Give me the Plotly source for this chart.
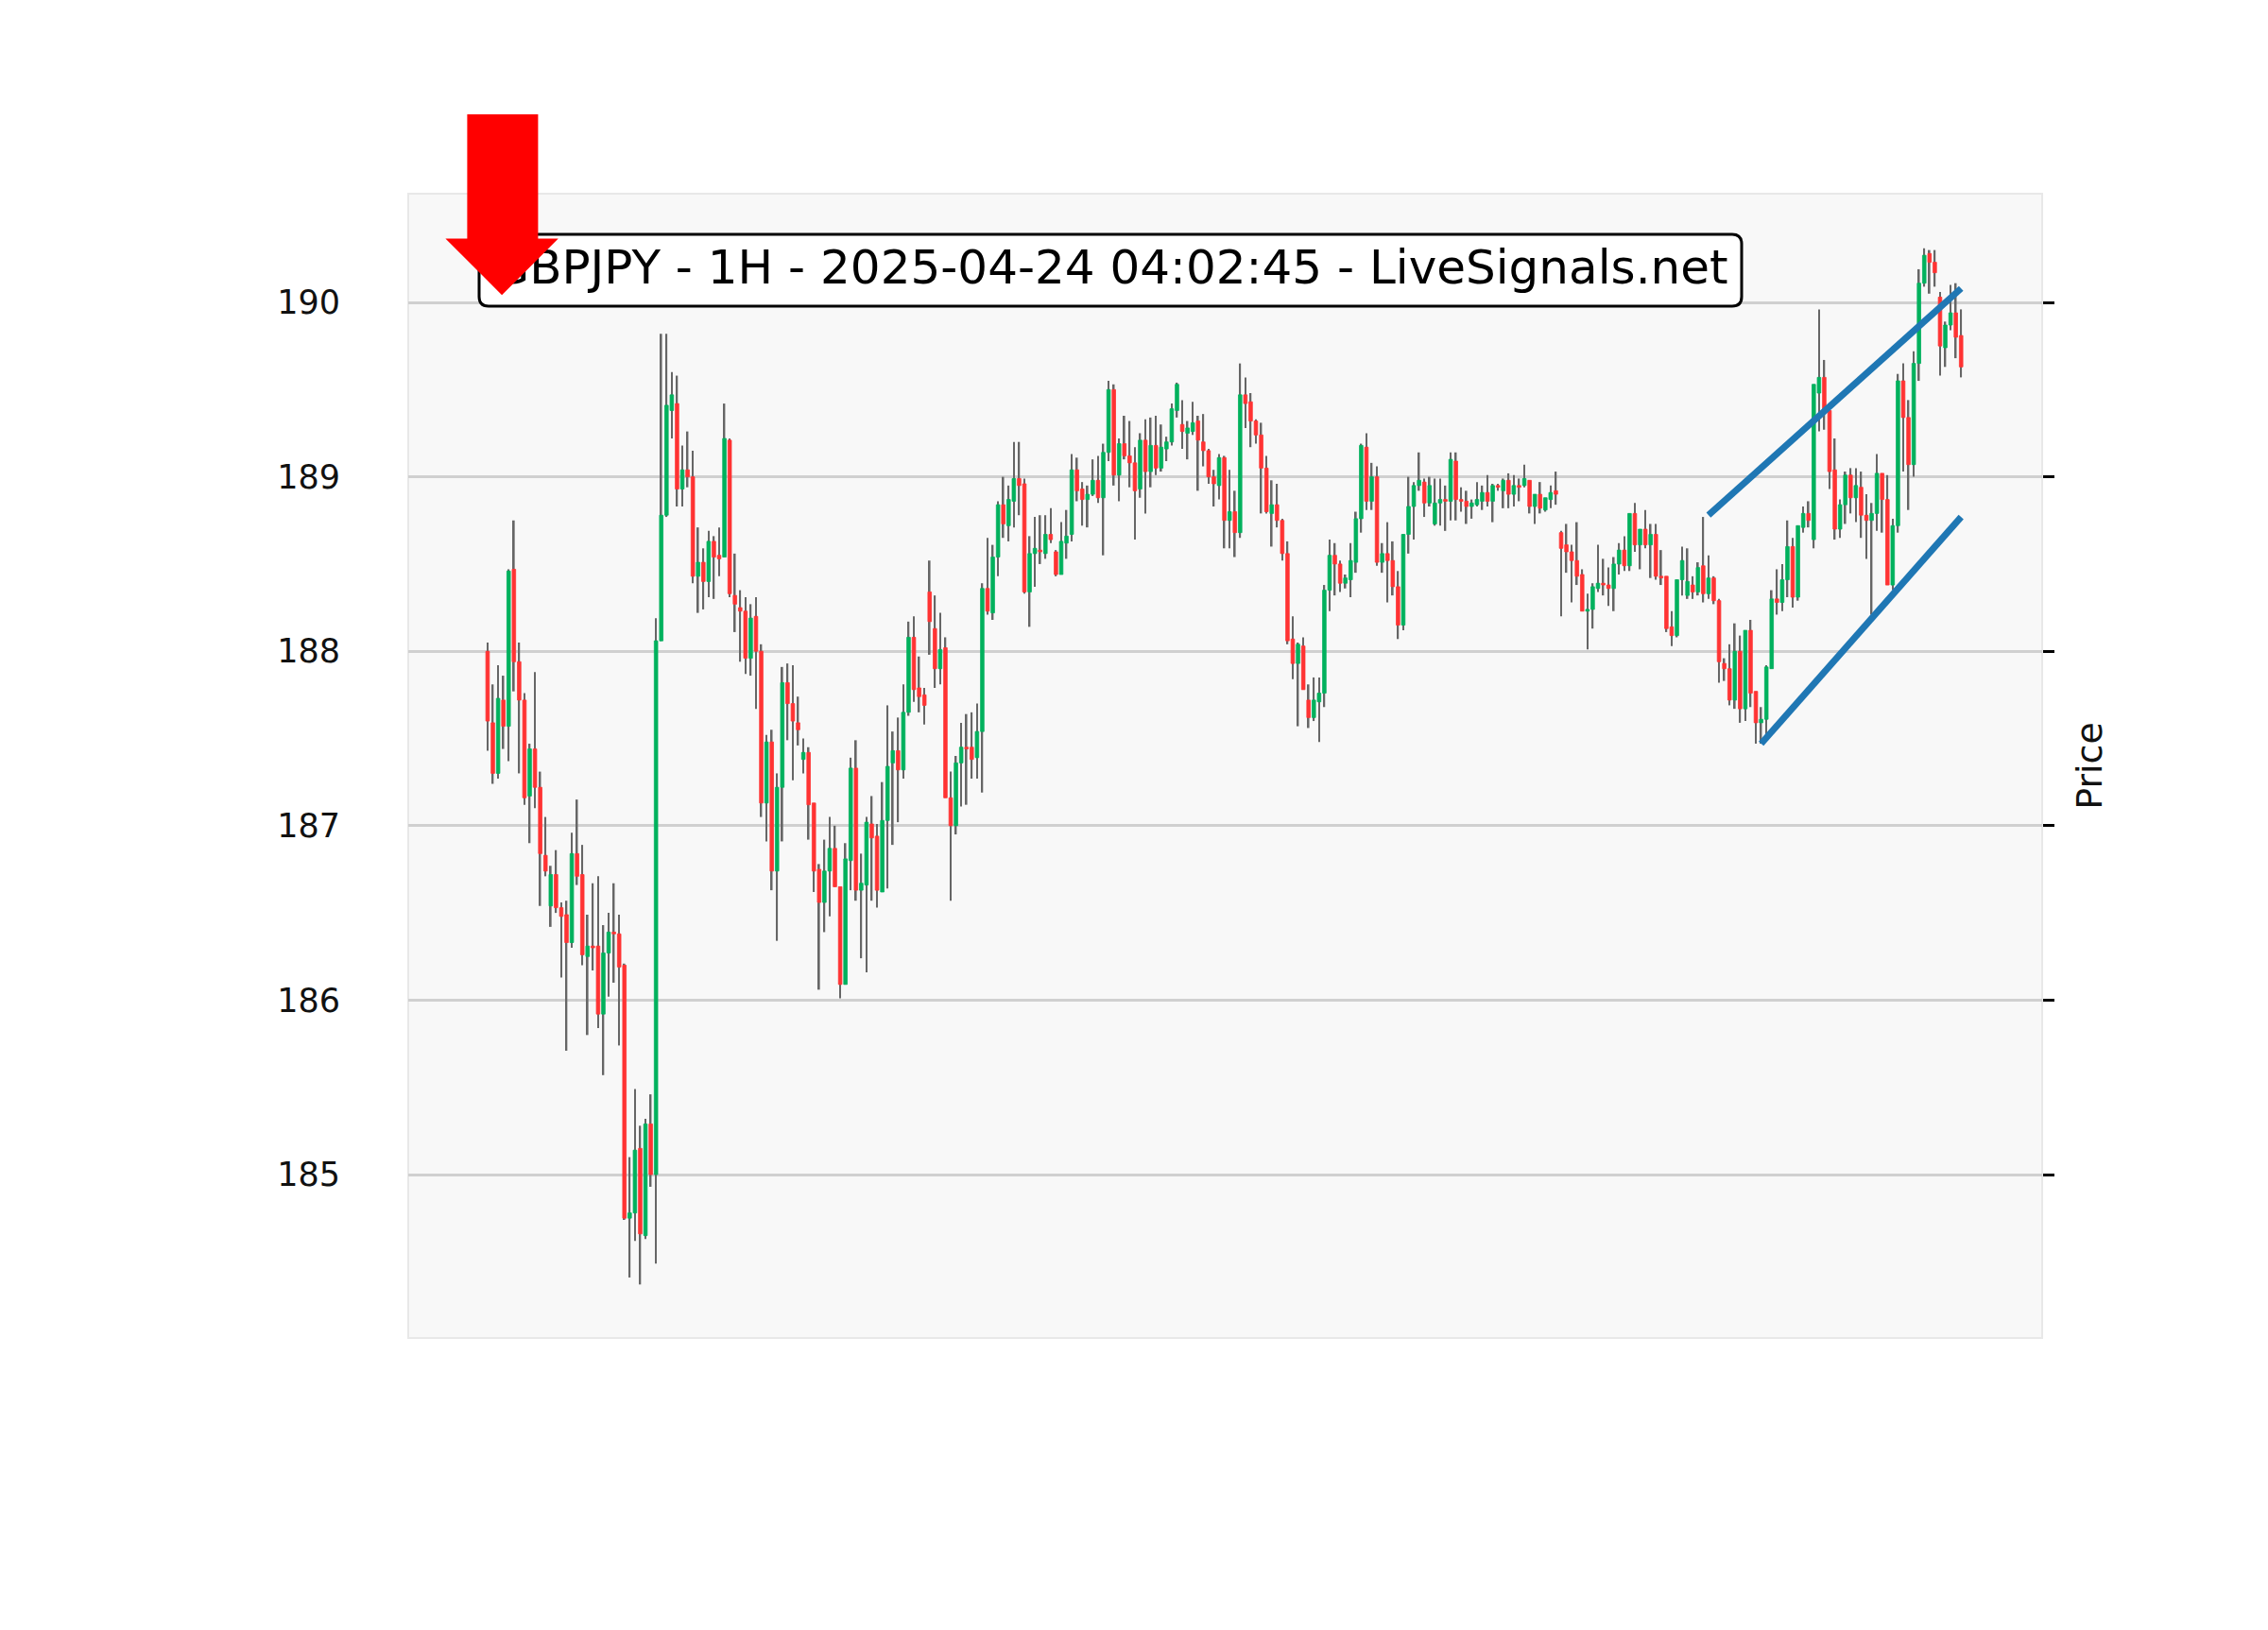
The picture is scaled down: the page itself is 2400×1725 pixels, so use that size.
import plotly.graph_objects as go

# ---------------- data (hourly candles) ----------------
opens = [188.00, 187.59, 187.30, 187.72, 187.57, 188.47, 187.94, 187.72, 187.17, 187.44,
         187.22, 186.83, 186.54, 186.72, 186.53, 186.49, 186.33, 186.84, 186.72, 186.25,
         186.31, 186.31, 185.92, 186.27, 186.39, 186.38, 186.20, 184.75, 184.78, 185.15,
         184.65, 185.29, 185.00, 188.06, 188.78, 189.38, 189.42, 188.93, 189.04, 189.00,
         188.43, 188.51, 188.40, 188.63, 188.55, 188.54, 189.21, 188.32, 188.25, 188.23,
         187.96, 188.20, 188.00, 187.13, 187.48, 186.74, 187.22, 187.82, 187.70, 187.59,
         187.38, 187.42, 187.13, 186.75, 186.56, 186.74, 186.87, 186.65, 186.09, 186.80,
         187.33, 186.63, 186.66, 187.01, 186.94, 186.62, 187.03, 187.36, 187.43, 187.32,
         187.65, 188.08, 187.79, 187.75, 188.34, 188.13, 187.90, 188.02, 187.16, 187.00,
         187.36, 187.45, 187.45, 187.39, 187.54, 188.36, 188.22, 188.54, 188.84, 188.72,
         188.86, 188.99, 188.96, 188.34, 188.56, 188.58, 188.56, 188.67, 188.57, 188.44,
         188.62, 188.67, 189.04, 188.93, 188.87, 188.90, 188.98, 188.88, 189.14, 189.50,
         189.01, 189.19, 189.12, 189.08, 188.93, 189.21, 189.03, 189.18, 189.05, 189.16,
         189.20, 189.38, 189.30, 189.25, 189.26, 189.32, 189.20, 189.15, 189.00, 188.95,
         189.11, 188.75, 188.80, 188.68, 189.47, 189.43, 189.32, 189.24, 189.05, 188.79,
         188.84, 188.75, 188.56, 188.07, 187.93, 188.03, 187.72, 187.62, 187.71, 187.76,
         188.35, 188.55, 188.50, 188.39, 188.41, 188.51, 188.76, 189.17, 188.86, 189.00,
         188.51, 188.56, 188.52, 188.37, 188.15, 188.67, 188.83, 188.95, 188.97, 188.85,
         188.73, 188.85, 188.87, 188.86, 189.09, 188.87, 188.86, 188.83, 188.84, 188.86,
         188.91, 188.86, 188.95, 188.92, 188.98, 188.90, 188.95, 188.95, 188.98, 188.83,
         188.90, 188.81, 188.87, 188.92, 188.68, 188.61, 188.57, 188.52, 188.44, 188.23,
         188.24, 188.36, 188.39, 188.38, 188.36, 188.50, 188.58, 188.49, 188.79, 188.61,
         188.70, 188.61, 188.67, 188.43, 188.43, 188.14, 188.09, 188.41, 188.32, 188.38,
         188.34, 188.49, 188.33, 188.42, 188.29, 187.93, 187.90, 187.72, 188.00, 187.67,
         188.12, 187.77, 187.59, 187.61, 187.90, 188.30, 188.28, 188.41, 188.60, 188.31,
         188.71, 188.79, 188.64, 189.48, 189.57, 189.38, 189.04, 188.70, 188.84, 189.01,
         188.88, 188.94, 188.78, 188.75, 188.79, 189.02, 188.87, 188.38, 188.72, 189.55,
         189.34, 189.07, 189.65, 190.11, 190.28, 190.23, 190.03, 189.74, 189.87, 189.94,
         189.81]
highs = [188.05, 187.81, 187.92, 187.86, 188.47, 188.75, 188.05, 187.76, 187.47, 187.88,
         187.31, 187.05, 186.77, 186.86, 186.56, 186.57, 186.96, 187.15, 186.89, 186.49,
         186.67, 186.71, 186.43, 186.50, 186.67, 186.49, 186.21, 185.10, 185.49, 185.28,
         185.32, 185.46, 188.19, 189.82, 189.82, 189.60, 189.58, 189.18, 189.26, 189.15,
         188.71, 188.59, 188.69, 188.66, 188.71, 189.42, 189.22, 188.56, 188.35, 188.31,
         188.27, 188.31, 188.04, 187.52, 187.55, 187.30, 187.91, 187.93, 187.92, 187.74,
         187.50, 187.45, 187.13, 186.78, 186.92, 187.05, 187.00, 186.65, 186.90, 187.39,
         187.49, 186.84, 187.05, 187.17, 187.01, 187.25, 187.69, 187.54, 187.62, 187.81,
         188.17, 188.20, 187.97, 187.79, 188.52, 188.32, 188.22, 188.08, 187.31, 187.40,
         187.59, 187.64, 187.65, 187.70, 188.39, 188.65, 188.61, 188.86, 189.00, 188.95,
         189.20, 189.20, 188.99, 188.66, 188.77, 188.78, 188.78, 188.82, 188.58, 188.74,
         188.81, 189.13, 189.11, 188.97, 188.95, 189.10, 189.12, 189.19, 189.55, 189.53,
         189.22, 189.35, 189.32, 189.17, 189.25, 189.33, 189.34, 189.35, 189.30, 189.23,
         189.42, 189.54, 189.44, 189.32, 189.43, 189.35, 189.36, 189.16, 189.04, 189.13,
         189.12, 189.04, 188.92, 189.65, 189.57, 189.48, 189.33, 189.31, 189.12, 188.98,
         188.96, 188.76, 188.63, 188.20, 188.05, 188.08, 187.81, 187.85, 187.85, 188.38,
         188.64, 188.62, 188.52, 188.44, 188.62, 188.80, 189.19, 189.25, 189.08, 189.06,
         188.62, 188.74, 188.63, 188.46, 188.67, 189.00, 188.97, 189.14, 188.99, 189.00,
         188.99, 188.99, 188.95, 189.14, 189.14, 188.94, 188.92, 188.87, 188.97, 188.95,
         189.01, 188.96, 188.96, 188.99, 189.02, 189.01, 188.99, 189.07, 188.98, 188.90,
         188.97, 188.88, 188.95, 189.03, 188.69, 188.73, 188.61, 188.74, 188.47, 188.33,
         188.39, 188.61, 188.53, 188.48, 188.54, 188.62, 188.66, 188.79, 188.85, 188.70,
         188.81, 188.73, 188.73, 188.58, 188.43, 188.23, 188.41, 188.60, 188.59, 188.43,
         188.51, 188.77, 188.55, 188.43, 188.30, 187.96, 188.04, 188.16, 188.09, 188.12,
         188.18, 187.77, 187.68, 187.92, 188.35, 188.47, 188.50, 188.75, 188.65, 188.72,
         188.83, 188.86, 189.53, 189.96, 189.67, 189.38, 189.22, 188.87, 189.03, 189.05,
         189.05, 189.03, 188.90, 188.85, 189.13, 189.02, 189.01, 188.76, 189.59, 189.65,
         189.44, 189.72, 190.19, 190.31, 190.30, 190.30, 190.06, 189.89, 190.10, 190.11,
         189.96]
lows = [187.43, 187.24, 187.27, 187.44, 187.37, 187.77, 187.30, 187.12, 186.90, 187.10,
        186.54, 186.71, 186.42, 186.50, 186.13, 185.71, 186.30, 186.66, 186.20, 185.80,
        186.17, 185.84, 185.57, 186.02, 186.10, 185.74, 184.74, 184.41, 184.62, 184.37,
        184.63, 184.93, 184.49, 188.06, 188.77, 189.22, 188.83, 188.83, 188.94, 188.39,
        188.22, 188.24, 188.31, 188.30, 188.43, 188.54, 188.31, 188.11, 187.94, 187.87,
        187.86, 187.67, 187.05, 186.91, 186.63, 186.34, 186.91, 187.49, 187.26, 187.46,
        187.30, 186.92, 186.62, 186.06, 186.39, 186.48, 186.65, 186.01, 186.09, 186.63,
        186.57, 186.24, 186.16, 186.57, 186.53, 186.62, 186.64, 186.89, 187.02, 187.27,
        187.63, 187.71, 187.65, 187.58, 187.98, 187.79, 187.81, 187.16, 186.57, 186.95,
        187.11, 187.12, 187.27, 187.27, 187.19, 188.21, 188.18, 188.43, 188.65, 188.63,
        188.71, 188.78, 188.33, 188.14, 188.37, 188.50, 188.53, 188.62, 188.43, 188.44,
        188.53, 188.63, 188.86, 188.72, 188.71, 188.89, 188.85, 188.55, 189.09, 188.95,
        188.86, 189.10, 188.94, 188.64, 188.88, 188.79, 188.94, 189.01, 189.03, 189.09,
        189.18, 189.34, 189.16, 189.10, 189.24, 188.92, 189.06, 188.96, 188.83, 188.87,
        188.59, 188.59, 188.54, 188.65, 189.28, 189.17, 189.19, 188.79, 188.79, 188.60,
        188.71, 188.52, 188.04, 187.84, 187.57, 187.78, 187.56, 187.60, 187.48, 187.68,
        188.23, 188.32, 188.34, 188.36, 188.31, 188.45, 188.68, 188.81, 188.81, 188.49,
        188.45, 188.28, 188.32, 188.07, 188.12, 188.56, 188.64, 188.92, 188.77, 188.83,
        188.72, 188.72, 188.69, 188.75, 188.75, 188.80, 188.73, 188.76, 188.83, 188.81,
        188.83, 188.74, 188.92, 188.82, 188.82, 188.83, 188.86, 188.94, 188.79, 188.73,
        188.79, 188.80, 188.82, 188.84, 188.20, 188.45, 188.28, 188.38, 188.23, 188.01,
        188.13, 188.34, 188.32, 188.26, 188.23, 188.44, 188.46, 188.46, 188.57, 188.47,
        188.59, 188.42, 188.41, 188.38, 188.11, 188.03, 188.08, 188.32, 188.30, 188.30,
        188.32, 188.28, 188.30, 188.27, 187.82, 187.83, 187.69, 187.67, 187.59, 187.60,
        187.68, 187.47, 187.47, 187.51, 187.90, 188.21, 188.23, 188.31, 188.25, 188.29,
        188.68, 188.71, 188.59, 189.26, 189.27, 188.93, 188.64, 188.65, 188.73, 188.79,
        188.74, 188.65, 188.53, 188.21, 188.69, 188.68, 188.38, 188.35, 188.68, 189.03,
        188.81, 189.00, 189.55, 190.09, 190.05, 190.09, 189.58, 189.63, 189.84, 189.68,
        189.57]
closes = [187.60, 187.30, 187.73, 187.57, 188.46, 187.94, 187.72, 187.16, 187.44, 187.22,
          186.84, 186.74, 186.72, 186.53, 186.48, 186.33, 186.84, 186.71, 186.26, 186.31,
          186.30, 185.92, 186.27, 186.39, 186.38, 186.19, 184.75, 184.78, 185.14, 184.66,
          185.29, 185.00, 188.06, 188.78, 189.41, 189.47, 188.93, 189.04, 189.00, 188.43,
          188.51, 188.40, 188.63, 188.54, 188.53, 189.22, 188.33, 188.27, 188.23, 187.96,
          188.19, 188.00, 187.13, 187.48, 186.74, 187.22, 187.82, 187.70, 187.60, 187.55,
          187.42, 187.12, 186.74, 186.56, 186.74, 186.87, 186.65, 186.09, 186.81, 187.33,
          186.63, 186.67, 187.02, 186.93, 186.63, 187.03, 187.34, 187.43, 187.32, 187.65,
          188.08, 187.78, 187.74, 187.69, 188.17, 187.90, 188.01, 187.16, 187.00, 187.36,
          187.45, 187.44, 187.38, 187.54, 188.36, 188.23, 188.54, 188.84, 188.73, 188.87,
          188.99, 188.95, 188.34, 188.56, 188.59, 188.57, 188.67, 188.64, 188.44, 188.63,
          188.66, 189.04, 188.92, 188.87, 188.90, 188.98, 188.88, 189.14, 189.50, 189.01,
          189.19, 189.12, 189.08, 188.92, 189.21, 189.03, 189.18, 189.05, 189.17, 189.20,
          189.39, 189.53, 189.26, 189.28, 189.31, 189.21, 189.15, 189.00, 188.96, 189.11,
          188.75, 188.80, 188.68, 189.47, 189.42, 189.32, 189.24, 189.05, 188.80, 188.84,
          188.75, 188.56, 188.06, 187.93, 188.04, 187.78, 187.62, 187.72, 187.76, 188.35,
          188.55, 188.50, 188.39, 188.42, 188.52, 188.76, 189.18, 188.86, 189.00, 188.51,
          188.56, 188.52, 188.37, 188.15, 188.67, 188.83, 188.95, 188.98, 188.85, 188.95,
          188.85, 188.87, 188.86, 189.10, 188.87, 188.86, 188.83, 188.85, 188.87, 188.91,
          188.86, 188.95, 188.94, 188.98, 188.90, 188.95, 188.94, 188.99, 188.83, 188.90,
          188.82, 188.88, 188.91, 188.90, 188.59, 188.57, 188.52, 188.43, 188.23, 188.24,
          188.37, 188.39, 188.38, 188.36, 188.50, 188.58, 188.49, 188.79, 188.61, 188.70,
          188.61, 188.67, 188.43, 188.42, 188.13, 188.09, 188.41, 188.52, 188.40, 188.34,
          188.48, 188.33, 188.42, 188.29, 187.94, 187.90, 187.72, 188.00, 187.67, 188.12,
          187.76, 187.59, 187.61, 187.91, 188.30, 188.28, 188.41, 188.60, 188.31, 188.72,
          188.79, 188.75, 189.53, 189.57, 189.38, 189.03, 188.70, 188.84, 189.01, 188.88,
          188.95, 188.78, 188.75, 188.79, 189.02, 188.87, 188.38, 188.72, 189.55, 189.34,
          189.07, 189.65, 190.11, 190.27, 190.23, 190.17, 189.75, 189.87, 189.94, 189.80,
          189.63]

price_ticks = [185, 186, 187, 188, 189, 190]

# channel lines (candle index, price)
upper_line_idx = [232, 280]
upper_line_price = [188.78, 190.08]
lower_line_idx = [242, 280]
lower_line_price = [187.47, 188.77]

title_text = "GBPJPY - 1H - 2025-04-24 04:02:45 - LiveSignals.net"
axis_title = "Price"

# ---------------- layout geometry ----------------
# page body has an 8px margin, so the figure is shrunk by 8px and offsets compensated
BODY = 8
W, H = 2400 - BODY, 1725 - BODY
PL, PR, PT, PB = 432, 2161, 205, 1416          # plot area in window pixels
XR = [-15.08, 295.4]
YR = [184.063, 190.623]

def px2x(px):
    return XR[0] + (px - PL) / (PR - PL) * (XR[1] - XR[0])

def py2y(py):
    return YR[1] - (py - PT) / (PB - PT) * (YR[1] - YR[0])

def px2paper(px):
    return (px - PL) / (PR - PL)

def py2paper(py):
    return 1 - (py - PT) / (PB - PT)

FONT = "DejaVu Sans"
GREEN = "#00b15d"
RED = "#ff3333"
WICK = "#666666"

n = len(opens)
xs = list(range(n))
body_base = [min(o, c) for o, c in zip(opens, closes)]
body_h = [abs(c - o) for o, c in zip(opens, closes)]
body_col = [GREEN if c >= o else RED for o, c in zip(opens, closes)]
wick_h = [h - l for h, l in zip(highs, lows)]

fig = go.Figure()

# wicks
fig.add_trace(go.Bar(x=xs, y=wick_h, base=lows, width=0.3,
                     marker=dict(color=WICK, line=dict(width=0)),
                     hoverinfo="skip", showlegend=False))
# bodies
fig.add_trace(go.Bar(x=xs, y=body_h, base=body_base, width=0.66,
                     marker=dict(color=body_col, line=dict(color=body_col, width=0.8)),
                     hoverinfo="skip", showlegend=False))

# channel lines
fig.add_trace(go.Scatter(x=upper_line_idx, y=upper_line_price, mode="lines",
                         line=dict(color="#1f77b4", width=7), yaxis="y2",
                         hoverinfo="skip", showlegend=False))
fig.add_trace(go.Scatter(x=lower_line_idx, y=lower_line_price, mode="lines",
                         line=dict(color="#1f77b4", width=7), yaxis="y2",
                         hoverinfo="skip", showlegend=False))

# title text inside box
bx0, bx1, by0, by1 = 507, 1843, 248, 324
fig.add_trace(go.Scatter(x=[px2x((bx0 + bx1) / 2)], y=[py2y((by0 + by1) / 2 + 1)],
                         mode="text", text=[title_text],
                         textposition="middle center",
                         textfont=dict(family=FONT, size=50, color="black"),
                         hoverinfo="skip", showlegend=False))

# rounded box path in data coords
r = 10
def P(px, py):
    return f"{px2x(px)},{py2y(py)}"
box_path = (f"M {P(bx0 + r, by0)} L {P(bx1 - r, by0)} Q {P(bx1, by0)} {P(bx1, by0 + r)} "
            f"L {P(bx1, by1 - r)} Q {P(bx1, by1)} {P(bx1 - r, by1)} "
            f"L {P(bx0 + r, by1)} Q {P(bx0, by1)} {P(bx0, by1 - r)} "
            f"L {P(bx0, by0 + r)} Q {P(bx0, by0)} {P(bx0 + r, by0)} Z")

def Q(px, py):
    return f"{px2paper(px)},{py2paper(py)}"
arrow_path = (f"M {Q(494.4, 121)} L {Q(569.4, 121)} L {Q(569.4, 252.5)} L {Q(590.8, 252.5)} "
              f"L {Q(531.1, 312.2)} L {Q(471.4, 252.5)} L {Q(494.4, 252.5)} Z")

shapes = [
    dict(type="rect", xref="paper", yref="paper", x0=0, x1=1, y0=0, y1=1,
         line=dict(color="#e8e8e8", width=2), fillcolor="rgba(0,0,0,0)", layer="below"),
    dict(type="path", xref="x", yref="y", path=box_path, layer="between",
         fillcolor="white", line=dict(color="black", width=3)),
    dict(type="path", xref="paper", yref="paper", path=arrow_path, layer="above",
         fillcolor="#ff0000", line=dict(width=0)),
]

fig.update_layout(
    width=W, height=H,
    margin=dict(l=PL - BODY, r=(W + BODY) - PR, t=PT - BODY, b=(H + BODY) - PB, pad=0),
    paper_bgcolor="white", plot_bgcolor="#f8f8f8",
    barmode="overlay", showlegend=False,
    font=dict(family=FONT, color="#111111"),
    xaxis=dict(range=XR, showgrid=False, showticklabels=False, zeroline=False,
               showline=False, ticks=""),
    yaxis=dict(range=YR, tickvals=price_ticks, ticktext=[str(t) for t in price_ticks],
               side="left", ticks="outside", ticklen=64, tickcolor="rgba(0,0,0,0)",
               showgrid=True, gridcolor="#d0d0d0", gridwidth=2.5, zeroline=False,
               showline=False, tickfont=dict(family=FONT, size=35, color="#111111")),
    yaxis2=dict(range=YR, overlaying="y", side="right", tickvals=price_ticks,
                showticklabels=False, ticks="outside", ticklen=12, tickwidth=2.5,
                tickcolor="black", showgrid=False, zeroline=False, showline=False,
                title=dict(text=axis_title, font=dict(family=FONT, size=38, color="#111111"),
                           standoff=24)),
    shapes=shapes,
)

fig.write_html("out.html")
